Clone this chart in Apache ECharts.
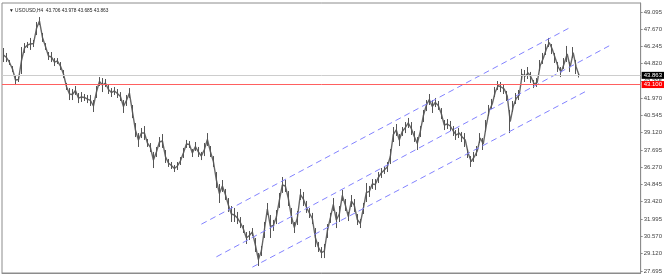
<!DOCTYPE html>
<html>
<head>
<meta charset="utf-8">
<title>USOUSD,H4</title>
<script src="https://cdn.jsdelivr.net/npm/echarts@6/dist/echarts.min.js"></script>
<style>
  html, body { margin: 0; padding: 0; background: #fff; }
  #chart { width: 665px; height: 277px; }
</style>
</head>
<body>
<div id="chart"></div>
<script>
// H4 bars, oldest first
const lows = [
  44.96, 44.96, 44.72, 44.14, 43.06, 43.31, 43.97, 45.71, 46.12, 45.96,
  46.20, 47.19, 48.02, 46.62, 45.96, 45.13, 44.96, 44.63, 44.80, 44.30,
  43.64, 42.65, 41.82, 41.82, 42.24, 41.57, 41.66, 41.74, 41.57, 41.33,
  40.83, 41.99, 42.98, 42.48, 42.90, 42.32, 42.07, 42.24, 41.99, 41.74,
  40.75, 41.33, 41.99, 40.33, 38.76, 37.94, 38.68, 38.52, 37.94, 37.53,
  36.20, 37.11, 37.94, 37.86, 36.62, 36.29, 36.12, 35.87, 36.04, 36.45,
  37.03, 37.86, 37.86, 37.11, 37.61, 37.11, 36.86, 37.19, 38.02, 37.11,
  36.29, 34.55, 33.31, 34.22, 33.56, 32.57, 31.74, 31.74, 31.57, 31.24,
  30.83, 29.92, 30.25, 30.58, 29.26, 28.10, 28.93, 30.42, 32.32, 30.42,
  31.00, 31.57, 32.90, 34.14, 34.22, 33.06, 31.57, 30.83, 31.49, 33.56,
  33.06, 32.49, 32.07, 31.57, 29.67, 29.26, 28.76, 28.76, 30.42, 31.66,
  32.65, 31.24, 31.74, 33.48, 32.65, 31.82, 32.98, 32.57, 31.49, 31.24,
  32.40, 33.39, 33.81, 34.47, 34.39, 34.96, 35.38, 35.71, 35.87, 36.53,
  38.35, 38.85, 38.02, 38.85, 39.09, 39.51, 38.93, 38.35, 37.69, 38.76,
  40.00, 40.91, 41.41, 40.75, 41.24, 41.00, 40.25, 39.34, 39.43, 39.26,
  38.85, 38.52, 38.68, 38.35, 37.94, 37.03, 36.29, 36.70, 37.19, 38.27,
  37.69, 39.18, 40.50, 41.08, 42.07, 42.65, 42.48, 42.32, 41.74, 39.09,
  40.83, 41.49, 41.82, 43.48, 43.31, 43.56, 43.23, 42.81, 42.90, 44.22,
  44.80, 45.54, 46.20, 45.62, 44.88, 44.14, 43.72, 44.39, 44.96, 44.14,
  45.29, 43.97, 43.685
];
const highs = [
  46.12, 45.71, 45.13, 44.63, 43.89, 43.72, 46.20, 46.53, 46.62, 46.95,
  46.78, 48.27, 48.68, 47.36, 46.53, 45.79, 45.79, 45.29, 45.29, 44.96,
  44.30, 43.23, 42.81, 42.73, 42.98, 42.40, 42.48, 42.32, 42.24, 42.24,
  41.82, 42.98, 43.72, 43.64, 43.56, 43.06, 42.81, 42.90, 42.73, 42.48,
  41.82, 42.24, 42.81, 41.41, 39.92, 39.09, 39.51, 39.67, 38.60, 38.27,
  37.53, 37.94, 38.76, 39.01, 37.69, 36.95, 36.70, 36.45, 36.70, 37.11,
  37.86, 38.52, 38.43, 37.77, 38.35, 37.94, 37.53, 38.27, 39.09, 38.02,
  37.19, 35.87, 34.88, 35.21, 34.47, 33.72, 33.06, 32.90, 32.57, 32.15,
  31.49, 30.91, 31.00, 31.24, 30.42, 29.18, 29.76, 31.74, 33.31, 32.32,
  31.91, 32.73, 34.14, 35.46, 35.21, 34.30, 32.90, 31.74, 32.65, 34.47,
  34.22, 33.48, 32.90, 32.49, 31.24, 30.09, 29.67, 29.92, 31.57, 32.49,
  33.72, 32.57, 33.06, 34.39, 33.64, 32.57, 33.97, 33.64, 32.40, 31.99,
  33.31, 34.96, 34.72, 35.29, 35.29, 35.87, 36.20, 36.37, 36.70, 37.77,
  39.59, 39.84, 39.01, 39.59, 40.00, 40.34, 40.00, 39.26, 38.76, 39.67,
  41.00, 41.82, 42.32, 41.82, 41.99, 41.74, 41.16, 40.17, 40.25, 40.09,
  39.67, 39.34, 39.51, 39.18, 39.09, 37.77, 37.19, 37.53, 38.02, 39.09,
  38.68, 40.17, 41.41, 41.91, 42.90, 43.39, 43.31, 43.14, 42.57, 41.00,
  41.74, 42.40, 42.65, 44.39, 44.30, 44.55, 44.14, 43.48, 43.64, 45.13,
  45.71, 46.45, 46.95, 46.45, 45.71, 44.96, 44.55, 45.29, 46.29, 44.96,
  46.20, 45.13, 43.978
];
const lastBar = [43.706, 43.978, 43.685, 43.863]; // O H L C
const bidPrice = 43.863;
const levelPrice = 43.100;
const priceTicks = [49.095, 47.670, 46.245, 44.820, 43.395, 41.970, 40.545, 39.120,
  37.695, 36.270, 34.845, 33.420, 31.995, 30.570, 29.120, 27.695];
// channel lines: [startBar, startPrice, endBar, endPrice]
const channelUpper = [66, 31.56, 189, 47.82];
const channelMiddle = [71, 28.86, 202, 46.30];
const channelLower = [83, 28.01, 195, 42.64];

const shiftSlots = 20; // empty space right of the last bar
const categories = [];
for (let i = 0; i < lows.length + shiftSlots; i++) categories.push(i);

const bars = lows.map((l, i) => [l, highs[i], l, highs[i]]);
// bar midpoints, joined so neighbouring bars read as one trace
const mids = lows.map((l, i) => +((l + highs[i]) / 2).toFixed(3));

const chart = echarts.init(document.getElementById('chart'));

function channel(c) {
  return {
    type: 'line',
    data: [[c[0], c[1]], [c[2], c[3]]],
    symbol: 'none',
    silent: true,
    animation: false,
    lineStyle: { color: '#8282ff', width: 1, type: [6, 4] },
    z: 3
  };
}

chart.setOption({
  animation: false,
  textStyle: { fontFamily: 'Liberation Sans' },
  title: {
    text: '\u25BC USOUSD,H4  ' + lastBar.map(v => v.toFixed(3)).join(' '),
    left: 4,
    top: 3,
    textStyle: { fontSize: 4.8, fontWeight: 'normal', color: '#222', fontFamily: 'Liberation Sans' }
  },
  grid: {
    left: 2, right: 23, top: 3, bottom: 4,
    show: true, borderColor: '#8c8c8c', borderWidth: 1
  },
  xAxis: {
    type: 'category',
    data: categories,
    boundaryGap: true,
    axisLine: { lineStyle: { color: '#8c8c8c' } },
    axisTick: {
      length: 2,
      interval: (index) => index % 11 === 0 && index < 190,
      lineStyle: { color: '#8c8c8c' }
    },
    axisLabel: { show: false },
    splitLine: { show: false }
  },
  yAxis: {
    type: 'value',
    position: 'right',
    min: 27.525,
    max: 49.84,
    axisLine: { show: true, lineStyle: { color: '#8c8c8c' } },
    axisTick: { show: true, length: 2, customValues: priceTicks, lineStyle: { color: '#8c8c8c' } },
    axisLabel: {
      customValues: priceTicks,
      formatter: (v) => v.toFixed(3),
      fontSize: 6,
      color: '#444',
      margin: 3
    },
    splitLine: { show: false }
  },
  series: [
    {
      type: 'candlestick',
      data: bars,
      barWidth: 1,
      itemStyle: {
        color: '#555', color0: '#555',
        borderColor: '#555', borderColor0: '#555', borderWidth: 1
      },
      markLine: {
        symbol: 'none',
        silent: true,
        animation: false,
        data: [
          {
            yAxis: bidPrice,
            lineStyle: { color: '#cdcdcd', width: 1, type: 'solid' },
            label: {
              position: 'end', distance: 1, formatter: bidPrice.toFixed(3),
              color: '#fff', backgroundColor: '#000', padding: [1, 2, 0, 2],
              fontSize: 6, lineHeight: 6
            }
          },
          {
            yAxis: levelPrice,
            lineStyle: { color: '#ff6060', width: 1, type: 'solid' },
            label: {
              position: 'end', distance: 1, formatter: levelPrice.toFixed(3),
              color: '#fff', backgroundColor: '#ff0000', padding: [1, 2, 0, 2],
              fontSize: 6, lineHeight: 6
            }
          }
        ]
      },
      z: 2
    },
    {
      type: 'line',
      data: mids,
      symbol: 'none',
      silent: true,
      lineStyle: { color: '#666', width: 1.4 },
      z: 2
    },
    channel(channelUpper),
    channel(channelMiddle),
    channel(channelLower)
  ]
});
</script>
</body>
</html>
